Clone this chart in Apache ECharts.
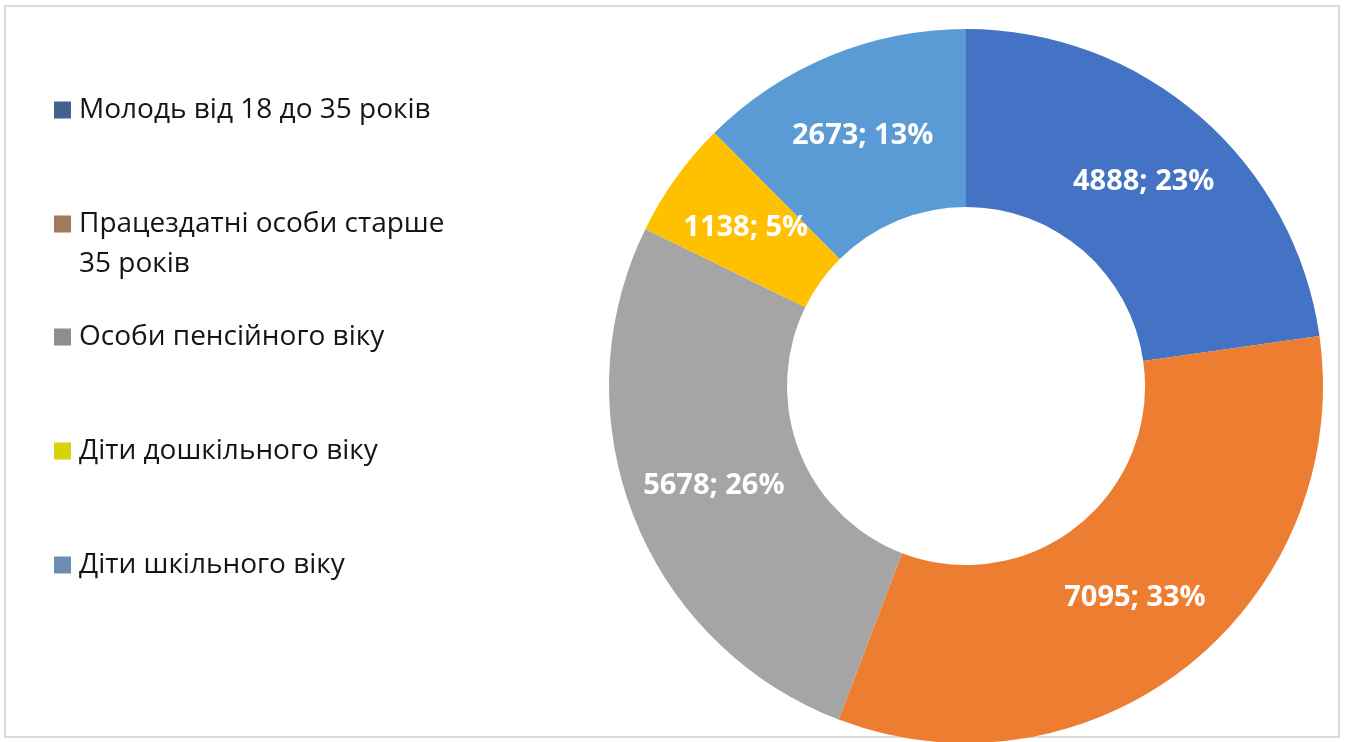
<!DOCTYPE html>
<html>
<head>
<meta charset="utf-8">
<script src="https://cdn.jsdelivr.net/npm/echarts@6/dist/echarts.min.js"></script>
<style>
  html, body { margin: 0; padding: 0; background: #fff; }
  #chart { width: 1346px; height: 742px; }
</style>
</head>
<body>
<div id="chart"></div>
<script>
// categories in legend order
const categories = [
  'Молодь від 18 до 35 років',
  'Працездатні особи старше 35 років',
  'Особи пенсійного віку',
  'Діти дошкільного віку',
  'Діти шкільного віку'
]
const values = [4888, 7095, 5678, 1138, 2673]

const sliceColors = ['#4472C4', '#ED7D31', '#A5A5A5', '#FFC000', '#5B9BD5']
// legend swatches look different from the slices in the source picture
const legendColors = ['#45618E', '#A27A5E', '#8F8E8A', '#D8D20A', '#6E8CB2']
const legendCenters = [110, 224, 337, 451, 565]

const lineH = 40
const chart = echarts.init(document.getElementById('chart'))

// one legend per item so they keep the even spacing of the original
const legends = categories.map((name, i) => {
  const twoLines = i === 1
  return {
    orient: 'vertical',
    left: 49,
    top: twoLines ? legendCenters[i] - lineH * 1.5 - 5 : legendCenters[i] - lineH / 2 - 5,
    icon: 'rect',
    itemWidth: 17,
    itemHeight: 17,
    itemGap: 0,
    selectedMode: false,
    // empty first line keeps the swatch level with the first text line
    formatter: n => n === categories[1] ? '\nПрацездатні особи старше\n35 років' : n,
    textStyle: {
      fontFamily: 'Open Sans',
      fontSize: 28,
      lineHeight: lineH,
      color: '#151515',
      padding: [0, 0, 0, 3]
    },
    data: [{ name: name, itemStyle: { color: legendColors[i] } }]
  }
})

chart.setOption({
  animation: false,
  graphic: [{
    type: 'rect',
    shape: { x: 5, y: 6, width: 1334, height: 731 },
    style: { fill: 'none', stroke: '#dcdcdc', lineWidth: 2 },
    silent: true
  }],
  legend: legends,
  series: [{
    type: 'pie',
    center: [966, 386],
    radius: [179, 357],
    startAngle: 90,
    clockwise: true,
    percentPrecision: 0,
    label: {
      show: true,
      position: 'inside',
      formatter: '{c}; {d}%',
      color: '#fff',
      fontFamily: 'Open Sans',
      fontWeight: 'bold',
      fontSize: 29,
      textBorderWidth: 0
    },
    labelLine: { show: false },
    itemStyle: { borderWidth: 0 },
    emphasis: { disabled: true },
    data: categories.map((name, i) => ({
      name: name,
      value: values[i],
      itemStyle: { color: sliceColors[i] }
    }))
  }]
})
</script>
</body>
</html>
